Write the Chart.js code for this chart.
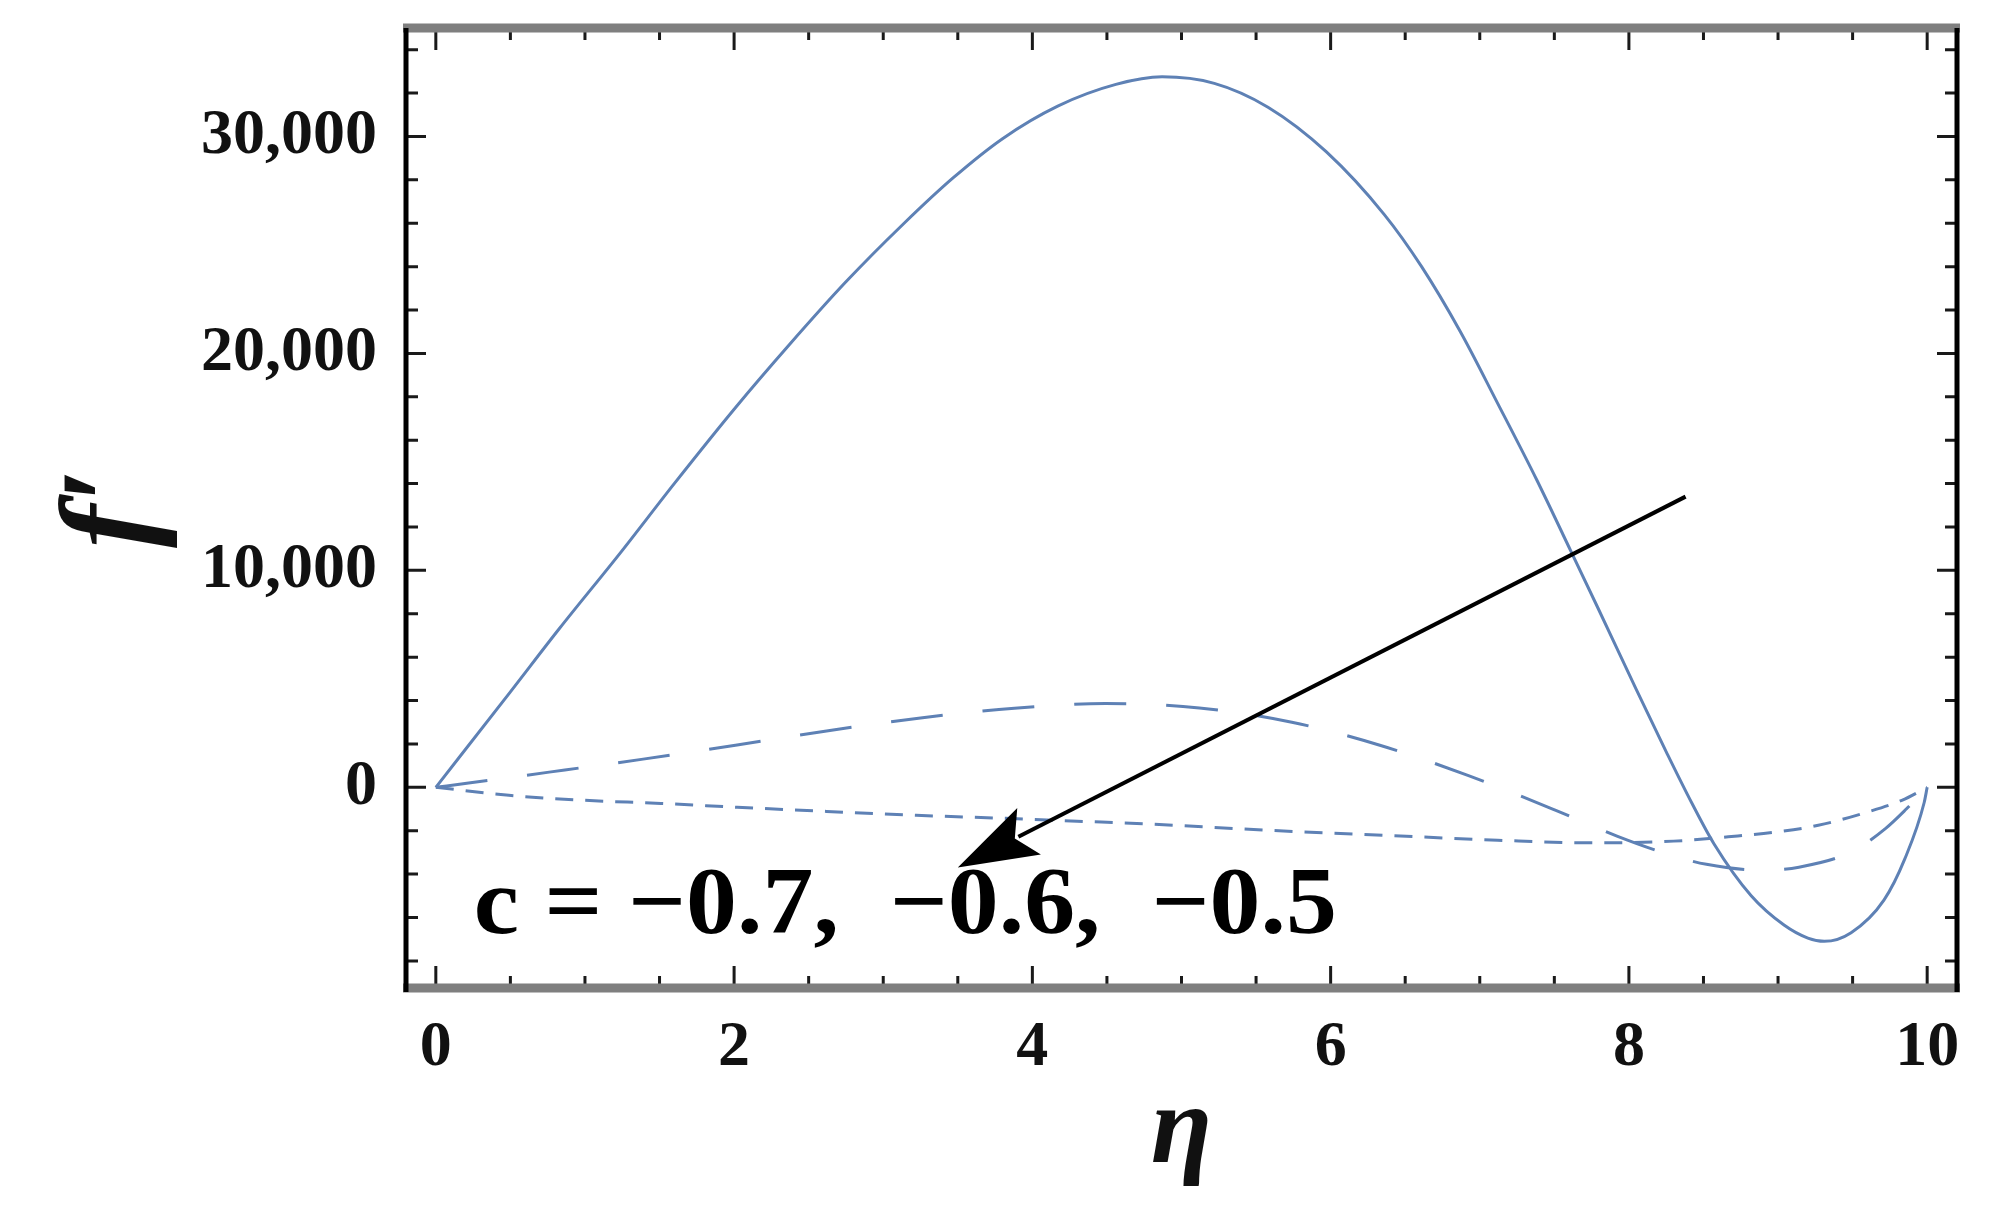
<!DOCTYPE html>
<html>
<head>
<meta charset="utf-8">
<script src="https://cdn.jsdelivr.net/npm/chart.js@4.4.1/dist/chart.umd.min.js"></script>
<style>
  body { margin: 0; background: #fff; }
  canvas { display: block; }
</style>
</head>
<body>
<canvas id="chart" width="1990" height="1231"></canvas>
<script>
// values (eta, f')
const etaA = [0, 0.5, 0.83, 1.24, 1.6, 2.01, 2.37, 2.75, 3.14, 3.47, 3.8, 4.17, 4.56, 4.87, 5.22, 5.58, 5.97, 6.36, 6.61, 6.87, 7.12, 7.38, 7.61, 7.79, 8.05, 8.26, 8.42, 8.57, 8.82, 9.04, 9.2, 9.31, 9.49, 9.71, 9.85, 9.98, 10];
const fA   = [0, 4400, 7330, 10830, 14010, 17510, 20400, 23300, 26000, 28100, 29900, 31400, 32400, 32750, 32450, 31350, 29300, 26400, 24000, 21000, 17700, 14200, 10900, 8300, 4500, 1500, -700, -2600, -5000, -6350, -6950, -7100, -6700, -5200, -3300, -700, 0];

const etaB = [0, 0.22, 0.76, 1.39, 2.02, 2.62, 3.25, 3.88, 4.49, 5.12, 5.74, 6.33, 6.92, 7.51, 7.92, 8.27, 8.52, 8.89, 9.14, 9.49, 9.72, 9.86, 10];
const fB   = [0, 200, 700, 1300, 1950, 2600, 3200, 3650, 3860, 3660, 3000, 1940, 550, -1060, -2250, -3100, -3550, -3820, -3680, -2980, -1900, -1000, 0];

const etaC = [0, 0.49, 1.0, 1.51, 2.02, 2.62, 3.22, 3.82, 4.3, 4.81, 5.58, 6.36, 7.12, 7.77, 8.3, 8.73, 9.0, 9.27, 9.6, 9.83, 10];
const fC   = [0, -370, -600, -740, -920, -1110, -1290, -1430, -1560, -1700, -1980, -2210, -2440, -2560, -2480, -2240, -2050, -1750, -1140, -600, 0];

const xTicks = [0, 2, 4, 6, 8, 10];
const yTicks = [0, 10000, 20000, 30000];

// arrow (eta, f') and note
const arrowFrom = [8.38, 13400];
const arrowTo = [3.50, -3700];
const noteText = 'c = \u22120.7,  \u22120.6,  \u22120.5';
const noteAt = [0.255, -6730];

const blue = '#5E81B5';
const serif = '"Liberation Serif", "Times New Roman", "DejaVu Serif", serif';

const pts = (xs, ys) => xs.map((x, i) => ({ x: x, y: ys[i] }));

const fmt = (v) => String(v).replace(/\B(?=(\d{3})+(?!\d))/g, ',');

// frame, inward ticks, arrow and note
const decor = {
    id: 'decor',
    afterDraw(chart) {
        const ctx = chart.ctx;
        const a = chart.chartArea;
        const xs = chart.scales.x, ys = chart.scales.y;
        ctx.save();

        // ticks
        ctx.strokeStyle = '#1a1a1a';
        ctx.lineWidth = 3;
        for (let v = 0; v <= 10.001; v += 0.5) {
            const px = xs.getPixelForValue(v);
            const len = (Math.abs(v % 2) < 1e-6) ? 22 : 12;
            ctx.beginPath();
            ctx.moveTo(px, a.bottom); ctx.lineTo(px, a.bottom - len);
            ctx.moveTo(px, a.top); ctx.lineTo(px, a.top + len);
            ctx.stroke();
        }
        for (let v = -8000; v <= 34000; v += 2000) {
            const py = ys.getPixelForValue(v);
            const len = (v % 10000 === 0) ? 20 : 12;
            ctx.beginPath();
            ctx.moveTo(a.left, py); ctx.lineTo(a.left + len, py);
            ctx.moveTo(a.right, py); ctx.lineTo(a.right - len, py);
            ctx.stroke();
        }

        // frame
        ctx.strokeStyle = '#7f7f7f';
        ctx.lineWidth = 9;
        ctx.beginPath();
        ctx.moveTo(a.left - 3, a.top); ctx.lineTo(a.right + 3, a.top);
        ctx.moveTo(a.left - 3, a.bottom); ctx.lineTo(a.right + 3, a.bottom);
        ctx.stroke();
        ctx.strokeStyle = '#000';
        ctx.lineWidth = 5;
        ctx.beginPath();
        ctx.moveTo(a.left, a.top); ctx.lineTo(a.left, a.bottom + 4);
        ctx.moveTo(a.right, a.top); ctx.lineTo(a.right, a.bottom + 4);
        ctx.stroke();

        // arrow
        const x0 = xs.getPixelForValue(arrowFrom[0]), y0 = ys.getPixelForValue(arrowFrom[1]);
        const x1 = xs.getPixelForValue(arrowTo[0]), y1 = ys.getPixelForValue(arrowTo[1]);
        const ang = Math.atan2(y1 - y0, x1 - x0);
        const hl = 80, hw = 26;
        const bx = x1 - hl * Math.cos(ang), by = y1 - hl * Math.sin(ang);
        ctx.strokeStyle = '#000';
        ctx.lineWidth = 4;
        ctx.beginPath();
        ctx.moveTo(x0, y0); ctx.lineTo(bx + 12 * Math.cos(ang), by + 12 * Math.sin(ang));
        ctx.stroke();
        ctx.fillStyle = '#000';
        ctx.beginPath();
        ctx.moveTo(x1, y1);
        ctx.lineTo(bx + hw * Math.sin(ang), by - hw * Math.cos(ang));
        ctx.lineTo(bx + 16 * Math.cos(ang), by + 16 * Math.sin(ang));
        ctx.lineTo(bx - hw * Math.sin(ang), by + hw * Math.cos(ang));
        ctx.closePath();
        ctx.fill();

        // note, condensed like the source
        const nx = xs.getPixelForValue(noteAt[0]), ny = ys.getPixelForValue(noteAt[1]);
        ctx.font = 'bold 96px ' + serif;
        const w = ctx.measureText(noteText).width;
        const sx = 863 / w;
        ctx.translate(nx, ny);
        ctx.scale(sx, 1);
        ctx.textAlign = 'left';
        ctx.textBaseline = 'alphabetic';
        ctx.fillStyle = '#000';
        ctx.fillText(noteText, 0, 0);
        ctx.restore();
    }
};

const line = (label, data, dash) => ({
    label: label,
    data: data,
    borderColor: blue,
    borderWidth: 3,
    borderDash: dash,
    pointRadius: 0,
    fill: false,
    cubicInterpolationMode: 'monotone'
});

new Chart(document.getElementById('chart'), {
    type: 'line',
    data: {
        datasets: [
            line('c = -0.7', pts(etaA, fA), []),
            line('c = -0.6', pts(etaB, fB), [52, 40]),
            line('c = -0.5', pts(etaC, fC), [18, 12])
        ]
    },
    options: {
        responsive: false,
        devicePixelRatio: 1,
        animation: false,
        layout: { padding: { top: 28, right: 33, left: 0, bottom: 0 } },
        plugins: { legend: { display: false }, tooltip: { enabled: false } },
        scales: {
            x: {
                type: 'linear',
                min: -0.2,
                max: 10.2,
                afterBuildTicks: (s) => { s.ticks = xTicks.map(v => ({ value: v })); },
                afterFit: (s) => { s.height = 243; s.paddingLeft = 0; s.paddingRight = 0; },
                grid: { display: false },
                border: { display: false },
                ticks: {
                    autoSkip: false,
                    maxRotation: 0,
                    padding: 14,
                    color: '#111',
                    font: { family: serif, size: 64, weight: 'bold' }
                },
                title: {
                    display: true,
                    text: '\u03b7',
                    color: '#111',
                    padding: { top: 0, bottom: 31 },
                    font: { family: serif, size: 112, weight: 'bold', style: 'italic' }
                }
            },
            y: {
                type: 'linear',
                min: -9250,
                max: 35000,
                afterBuildTicks: (s) => { s.ticks = yTicks.map(v => ({ value: v })); },
                afterFit: (s) => { s.width = 406; s.paddingTop = 0; s.paddingBottom = 0; },
                grid: { display: false },
                border: { display: false },
                ticks: {
                    padding: 21,
                    color: '#111',
                    font: { family: serif, size: 64, weight: 'bold' },
                    callback: (v) => fmt(v)
                },
                title: {
                    display: true,
                    text: 'f\u2032',
                    color: '#111',
                    padding: { top: 37, bottom: 0 },
                    font: { family: serif, size: 130, weight: 'bold', style: 'italic' }
                }
            }
        }
    },
    plugins: [decor]
});
</script>
</body>
</html>
